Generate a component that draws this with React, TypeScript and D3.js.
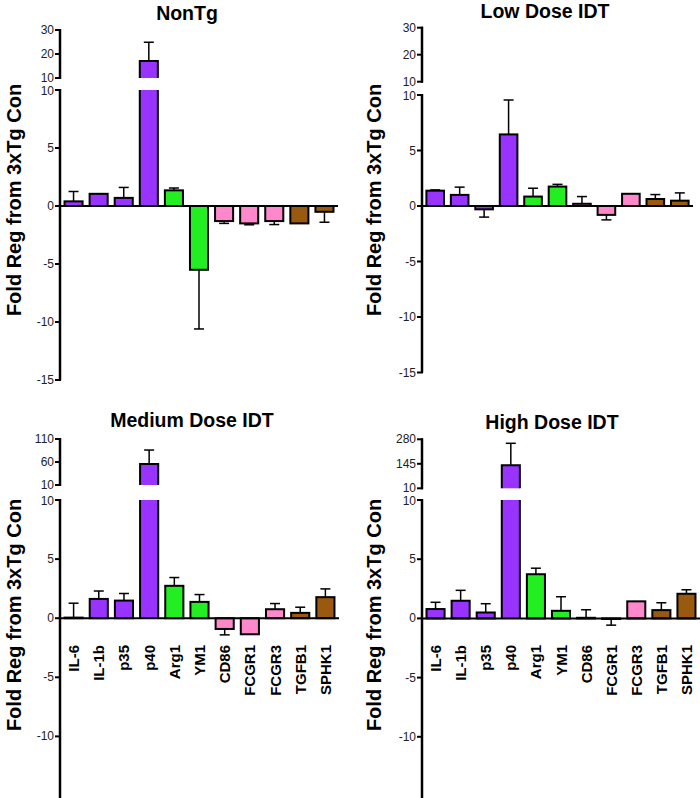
import React from "react";
import * as d3 from "d3";

const categories = ["IL-6", "IL-1b", "p35", "p40", "Arg1", "YM1", "CD86", "FCGR1", "FCGR3", "TGFB1", "SPHK1"];
const groupOf = ["M1", "M1", "M1", "M1", "M2", "M2", "FC", "FC", "FC", "TG", "TG"];
const groupColors: Record<string, string> = { M1: "#9933ff", M2: "#22ee22", FC: "#ff88cc", TG: "#99590f" };

const panelTitles = ["NonTg", "Low Dose IDT", "Medium Dose IDT", "High Dose IDT"];

const nonTgMeans = [0.4, 1.05, 0.7, 17.1, 1.35, -5.5, -1.3, -1.5, -1.3, -1.5, -0.5];
const nonTgErrs = [0.85, 0, 0.9, 7.8, 0.2, 5.1, 0.2, 0.12, 0.3, 0, 0.9];
const lowMeans = [1.38, 1.0, -0.3, 6.45, 0.85, 1.75, 0.2, -0.8, 1.1, 0.63, 0.48];
const lowErrs = [0.07, 0.7, 0.7, 3.1, 0.75, 0.2, 0.65, 0.45, 0, 0.4, 0.7];
const medMeans = [0.05, 1.63, 1.49, 55.6, 2.74, 1.38, -0.91, -1.36, 0.76, 0.45, 1.78];
const medErrs = [1.22, 0.67, 0.6, 30.4, 0.7, 0.62, 0.5, 0, 0.48, 0.48, 0.7];
const highMeans = [0.79, 1.49, 0.5, 137, 3.73, 0.64, 0.05, -0.05, 1.44, 0.7, 2.08];
const highErrs = [0.57, 0.88, 0.74, 121, 0.51, 1.19, 0.68, 0.52, 0, 0.62, 0.34];

const upperTicksSmall = [10, 20, 30];
const upperTicksMed = [10, 60, 110];
const upperTicksHigh = [10, 145, 280];
const lowerTicksTop = [10, 5, 0, -5, -10, -15];
const lowerTicksBottom = [10, 5, 0, -5, -10];

type PanelCfg = {
  title: string;
  means: number[];
  errs: number[];
  upperTicks: number[];
  lowerTicks: number[];
  ax: number; axEnd: number;
  up10: number; upMax: number;
  low10: number; lowMin: number;
  lowBottom: number;
  titleX: number; titleY: number;
  labelX: number; labelY: number;
  showCats: boolean;
};

const panels: PanelCfg[] = [
  { title: panelTitles[0], means: nonTgMeans, errs: nonTgErrs, upperTicks: upperTicksSmall, lowerTicks: lowerTicksTop,
    ax: 60, axEnd: 338, up10: 78, upMax: 30, low10: 90, lowMin: 380, lowBottom: 380,
    titleX: 187, titleY: 20, labelX: 14, labelY: 200, showCats: false },
  { title: panelTitles[1], means: lowMeans, errs: lowErrs, upperTicks: upperTicksSmall, lowerTicks: lowerTicksTop,
    ax: 422, axEnd: 693, up10: 81.7, upMax: 27.7, low10: 95, lowMin: 372.5, lowBottom: 372.5,
    titleX: 545, titleY: 17.5, labelX: 374, labelY: 200, showCats: false },
  { title: panelTitles[2], means: medMeans, errs: medErrs, upperTicks: upperTicksMed, lowerTicks: lowerTicksBottom,
    ax: 60, axEnd: 339, up10: 485, upMax: 439, low10: 500, lowMin: 795.5, lowBottom: 798,
    titleX: 192, titleY: 427, labelX: 14, labelY: 615, showCats: true },
  { title: panelTitles[3], means: highMeans, errs: highErrs, upperTicks: upperTicksHigh, lowerTicks: lowerTicksBottom,
    ax: 422, axEnd: 700, up10: 488.3, upMax: 439.3, low10: 500, lowMin: 796, lowBottom: 798,
    titleX: 552, titleY: 429, labelX: 374, labelY: 615, showCats: true },
];

const FONT = "'Liberation Sans', Arial, Helvetica, sans-serif";

function Panel({ p }: { p: PanelCfg }) {
  const upMaxVal = p.upperTicks[p.upperTicks.length - 1];
  const upper = d3.scaleLinear().domain([10, upMaxVal]).range([p.up10, p.upMax]);
  const lower = d3.scaleLinear().domain([-15, 10]).range([p.lowMin, p.low10]);
  const x = d3.scaleBand<string>().domain(categories).range([p.ax, p.axEnd]).paddingInner(0.28).paddingOuter(0.18);
  const bw = x.bandwidth();
  const y0 = lower(0);
  const capW = 5;

  return (
    <g>
      <text x={p.titleX} y={p.titleY} textAnchor="middle" fontFamily={FONT} fontWeight="bold" fontSize={19.5} fill="#000">{p.title}</text>
      <text transform={`translate(${p.labelX},${p.labelY}) rotate(-90)`} textAnchor="middle" dominantBaseline="central"
        fontFamily={FONT} fontWeight="bold" fontSize={20} fill="#000">Fold Reg from 3xTg Con</text>

      {categories.map((c, i) => {
        const v = p.means[i];
        const e = p.errs[i];
        const bx = x(c)!;
        const cx = bx + bw / 2;
        const color = groupColors[groupOf[i]];
        const els: React.ReactNode[] = [];
        if (v > 10) {
          const lt = lower(10);
          const ut = upper(v);
          const ub = upper(10);
          els.push(<rect key="lof" x={bx} y={lt} width={bw} height={y0 - lt} fill={color} />);
          els.push(<path key="los" d={`M${bx},${lt}V${y0}M${bx + bw},${lt}V${y0}`} stroke="#000" strokeWidth={2} fill="none" />);
          els.push(<rect key="upf" x={bx} y={ut} width={bw} height={ub - ut} fill={color} />);
          els.push(<path key="ups" d={`M${bx},${ub}V${ut}H${bx + bw}V${ub}`} stroke="#000" strokeWidth={2} fill="none" />);
        } else {
          const top = lower(Math.max(v, 0));
          const bot = lower(Math.min(v, 0));
          els.push(<rect key="b" x={bx} y={top} width={bw} height={Math.max(bot - top, 0.5)} fill={color} stroke="#000" strokeWidth={2} />);
        }
        if (e > 0) {
          const end = v + (v >= 0 ? e : -e);
          const sc = v > 10 ? upper : lower;
          const ys = sc(v);
          const ye = sc(end);
          els.push(<line key="el" x1={cx} x2={cx} y1={ys} y2={ye} stroke="#000" strokeWidth={1.5} />);
          els.push(<line key="ec" x1={cx - capW} x2={cx + capW} y1={ye} y2={ye} stroke="#000" strokeWidth={1.5} />);
        }
        return <g key={c}>{els}</g>;
      })}

      <line x1={p.ax} x2={p.axEnd} y1={y0} y2={y0} stroke="#000" strokeWidth={2} />

      <line x1={p.ax} x2={p.ax} y1={upper(10) + 1} y2={upper(upMaxVal) - 1} stroke="#000" strokeWidth={2.5} />
      {p.upperTicks.map((t) => (
        <g key={"u" + t}>
          <line x1={p.ax - 5} x2={p.ax + 1} y1={upper(t)} y2={upper(t)} stroke="#000" strokeWidth={2} />
          <text x={p.ax - 6} y={upper(t)} textAnchor="end" dominantBaseline="central" fontFamily={FONT} fontSize={12} fill="#222">{t}</text>
        </g>
      ))}

      <line x1={p.ax} x2={p.ax} y1={lower(10) - 1} y2={p.lowBottom} stroke="#000" strokeWidth={2.5} />
      {p.lowerTicks.map((t) => (
        <g key={"l" + t}>
          <line x1={p.ax - 5} x2={p.ax + 1} y1={lower(t)} y2={lower(t)} stroke="#000" strokeWidth={2} />
          <text x={p.ax - 6} y={lower(t) + (t === 10 ? 1 : 0)} textAnchor="end" dominantBaseline="central" fontFamily={FONT} fontSize={12} fill="#222">{t}</text>
        </g>
      ))}

      {p.showCats && categories.map((c) => {
        const cx = x(c)! + bw / 2;
        return (
          <text key={"c" + c} transform={`translate(${cx},645) rotate(-90)`} textAnchor="end" dominantBaseline="central"
            fontFamily={FONT} fontWeight="bold" fontSize={15} fill="#000">{c}</text>
        );
      })}
    </g>
  );
}

export default function App() {
  return (
    <svg width={700} height={798} style={{ position: "absolute", left: 0, top: 0, background: "#fff" }}>
      <rect x={0} y={0} width={700} height={798} fill="#fff" />
      {panels.map((p, i) => <Panel key={i} p={p} />)}
    </svg>
  );
}
